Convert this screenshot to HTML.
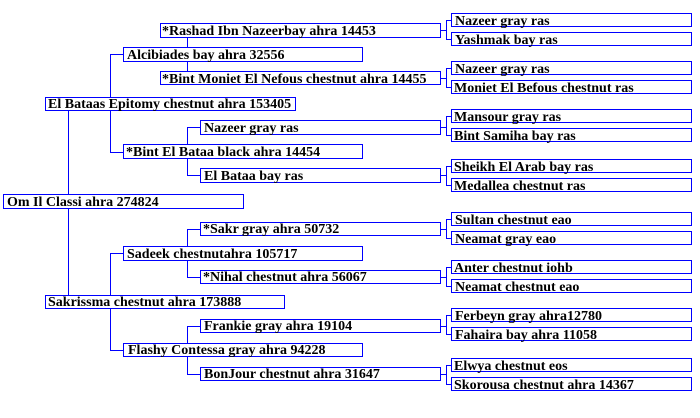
<!DOCTYPE html>
<html><head><meta charset="utf-8"><style>
html,body{margin:0;padding:0;background:#fff;width:700px;height:418px;overflow:hidden}
svg{display:block}
text{font-family:"Liberation Serif",serif;font-weight:bold;font-size:14px;fill:#000;letter-spacing:0px}
</style></head><body>
<svg width="700" height="418" xmlns="http://www.w3.org/2000/svg" shape-rendering="crispEdges">
<g stroke="#0000ff" stroke-width="1" fill="none">
<path d="M68.5 111V194M68.5 209V295"/>
<path d="M110.5 54V152M110 54.5H123M110 152.5H123"/>
<path d="M110.5 253V350M110 253.5H123M110 350.5H123"/>
<path d="M187.5 38V71"/>
<path d="M187.5 127V175M187 127.5H200M187 175.5H200"/>
<path d="M187.5 229V277M187 229.5H200M187 277.5H200"/>
<path d="M187.5 326V374M187 326.5H200M187 374.5H200"/>
<path d="M441 30.5H446.5M446.5 20V39M446 20.5H451M446 39.5H451"/>
<path d="M441 78.5H446.5M446.5 68V87M446 68.5H451M446 87.5H451"/>
<path d="M441 127.5H446.5M446.5 116V135M446 116.5H451M446 135.5H451"/>
<path d="M441 175.5H446.5M446.5 166V185M446 166.5H451M446 185.5H451"/>
<path d="M441 229.5H446.5M446.5 219V238M446 219.5H451M446 238.5H451"/>
<path d="M441 277.5H446.5M446.5 267V286M446 267.5H451M446 286.5H451"/>
<path d="M441 326.5H446.5M446.5 315V334M446 315.5H451M446 334.5H451"/>
<path d="M441 374.5H446.5M446.5 365V384M446 365.5H451M446 384.5H451"/>
</g>
<g stroke="#0000ff" stroke-width="1" fill="#fff">
<rect x="3.5" y="194.5" width="240" height="14"/>
<rect x="45.5" y="97.5" width="250" height="13"/>
<rect x="45.5" y="295.5" width="239" height="13"/>
<rect x="123.5" y="47.5" width="239" height="14"/>
<rect x="123.5" y="144.5" width="239" height="14"/>
<rect x="123.5" y="246.5" width="239" height="14"/>
<rect x="123.5" y="343.5" width="239" height="13"/>
<rect x="160.5" y="23.5" width="280" height="14"/>
<rect x="160.5" y="71.5" width="280" height="13"/>
<rect x="200.5" y="120.5" width="240" height="14"/>
<rect x="200.5" y="168.5" width="240" height="14"/>
<rect x="200.5" y="222.5" width="240" height="13"/>
<rect x="200.5" y="270.5" width="240" height="13"/>
<rect x="200.5" y="319.5" width="240" height="13"/>
<rect x="200.5" y="367.5" width="240" height="13"/>
<rect x="451.5" y="13.5" width="240" height="13"/>
<rect x="451.5" y="32.5" width="240" height="13"/>
<rect x="451.5" y="61.5" width="240" height="13"/>
<rect x="451.5" y="80.5" width="240" height="13"/>
<rect x="451.5" y="109.5" width="240" height="13"/>
<rect x="451.5" y="128.5" width="240" height="13"/>
<rect x="451.5" y="159.5" width="240" height="13"/>
<rect x="451.5" y="178.5" width="240" height="13"/>
<rect x="451.5" y="212.5" width="240" height="13"/>
<rect x="451.5" y="231.5" width="240" height="13"/>
<rect x="451.5" y="260.5" width="240" height="13"/>
<rect x="451.5" y="279.5" width="240" height="13"/>
<rect x="451.5" y="308.5" width="240" height="13"/>
<rect x="451.5" y="327.5" width="240" height="13"/>
<rect x="451.5" y="358.5" width="240" height="13"/>
<rect x="451.5" y="377.5" width="240" height="13"/>
</g>
<g>
<text x="7" y="206">Om Il Classi ahra 274824</text>
<text x="48" y="108">El Bataas Epitomy chestnut ahra 153405</text>
<text x="48" y="306">Sakrissma chestnut ahra 173888</text>
<text x="127" y="59">Alcibiades bay ahra 32556</text>
<text x="126" y="156">*Bint El Bataa black ahra 14454</text>
<text x="127" y="258">Sadeek chestnutahra 105717</text>
<text x="128" y="354">Flashy Contessa gray ahra 94228</text>
<text x="162" y="35">*Rashad Ibn Nazeerbay ahra 14453</text>
<text x="162" y="83">*Bint Moniet El Nefous chestnut ahra 14455</text>
<text x="204" y="132">Nazeer gray ras</text>
<text x="204" y="180">El Bataa bay ras</text>
<text x="203" y="233">*Sakr gray ahra 50732</text>
<text x="203" y="281">*Nihal chestnut ahra 56067</text>
<text x="204" y="330">Frankie gray ahra 19104</text>
<text x="204" y="378">BonJour chestnut ahra 31647</text>
<text x="455" y="25">Nazeer gray ras</text>
<text x="455" y="44">Yashmak bay ras</text>
<text x="455" y="73">Nazeer gray ras</text>
<text x="454" y="92">Moniet El Befous chestnut ras</text>
<text x="454" y="121">Mansour gray ras</text>
<text x="454" y="140">Bint Samiha bay ras</text>
<text x="454" y="171">Sheikh El Arab bay ras</text>
<text x="454" y="190">Medallea chestnut ras</text>
<text x="455" y="224">Sultan chestnut eao</text>
<text x="455" y="243">Neamat gray eao</text>
<text x="454" y="272">Anter chestnut iohb</text>
<text x="455" y="291">Neamat chestnut eao</text>
<text x="455" y="320">Ferbeyn gray ahra12780</text>
<text x="455" y="339">Fahaira bay ahra 11058</text>
<text x="454" y="370">Elwya chestnut eos</text>
<text x="454" y="389">Skorousa chestnut ahra 14367</text>
</g>
</svg>
</body></html>
